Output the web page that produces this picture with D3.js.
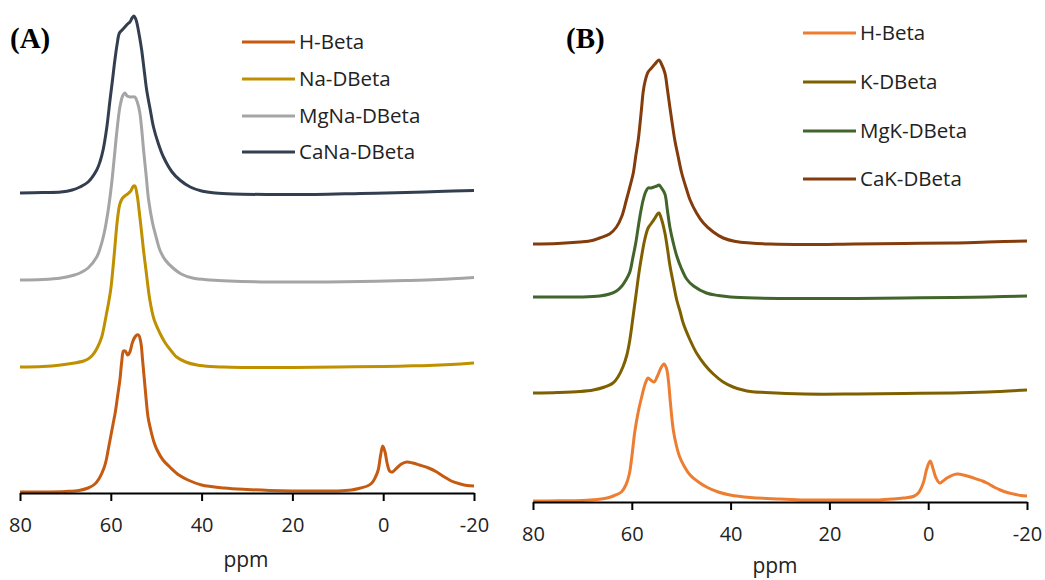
<!DOCTYPE html>
<html>
<head>
<meta charset="utf-8">
<script src="https://cdn.jsdelivr.net/npm/d3@7"></script>
<style>
  body { margin: 0; background: #fff; }
  svg { display: block; }
  .tick-lbl, .leg-lbl, .ax-title { font-family: "Open Sans", "Noto Sans", sans-serif; fill: #222; }
  .panel-lbl { font-family: "Liberation Serif", "Times New Roman", serif; font-weight: bold; fill: #000; }
</style>
</head>
<body>
<svg id="chart" width="1045" height="580"></svg>
<script>
// 27Al MAS NMR spectra, two panels. [ppm, intensity above own baseline]
const ticks = [80, 60, 40, 20, 0, -20];

// ---- panel A ----
const namesA = ["H-Beta", "Na-DBeta", "MgNa-DBeta", "CaNa-DBeta"];
const colorsA = ["#C55A11", "#BF9000", "#A5A5A5", "#333F50"];
const offsetsA = [1, 126, 212, 299];

const hBetaA = [[80,0],[75,0],[70,0.5],[67,1.5],[65,4],[63.5,8],[62.5,14],[61.5,24],[61,32],[60.5,44],[60,56],[59.5,68],[59,80],[58.5,96],[58,112],[57.6,130],[57.2,141],[56.8,141],[56.3,137],[55.8,140],[55.2,150],[54.5,156],[53.9,157],[53.4,150],[53,132],[52.6,112],[52.2,92],[51.8,75],[51.2,62],[50.5,50],[49.8,42],[48.5,32],[47,25],[45,17],[43,12],[40,7],[35,4],[30,2.5],[25,1.5],[20,1],[15,1],[10,1],[7,2],[5,4],[3.5,6],[2.5,9],[1.8,14],[1.1,22],[0.6,36],[0.1,46],[-0.4,40],[-0.9,28],[-1.4,21],[-2,20],[-3,24],[-4,28],[-5.2,30],[-6.5,29],[-8,27],[-10,24],[-11.8,20],[-13.5,15],[-15,11],[-17,8],[-18.5,6.5],[-20,6]];
const naDBeta = [[80,0],[75,0.5],[71,2],[68,4],[66,6],[65,8],[64,12],[63,19],[62,30],[61.5,40],[61,52],[60.5,64],[60,78],[59.5,100],[59.1,120],[58.6,145],[58,163],[57.4,169],[56.9,171],[56.3,173],[55.6,176],[55,181],[54.7,181],[54.2,172],[53.8,158],[53.3,138],[52.8,117],[52.2,95],[51.4,67],[50.5,48],[49.2,34],[48,24],[46.5,15],[45.5,10],[43.5,5],[41,2],[38,0.5],[35,0],[30,-0.5],[20,-0.5],[10,0],[0,0.5],[-5,1],[-10,1.5],[-15,2.5],[-20,4]];
const mgNaDBeta = [[80,1],[75,1.5],[71,3],[68,6],[66.8,8],[65,13],[63.1,24],[62.4,32],[61.5,47],[60.6,70],[59.8,98],[59.2,125],[58.7,148],[58,174],[57.4,185],[56.9,188],[56.4,185],[55.5,184],[54.7,184],[54.1,178],[53.6,168],[53.2,152],[52.8,132],[52.2,105],[51.7,82],[50.8,58],[49.9,42],[49.2,31],[48,21],[46.3,13],[44.5,7],[42,3],[38,1],[34,0],[25,-1],[15,-1],[5,-0.5],[-5,0.5],[-12,1.5],[-20,3.5]];
const caNaDBeta = [[80,1],[75,1.5],[71,2],[68.5,4],[66.8,7],[65,12],[63.1,24],[62.4,32],[61.7,44],[60.9,66],[60.2,93],[59.6,115],[59.1,134],[58.6,150],[58.1,161],[57.5,164],[56.9,167],[56.3,170],[55.8,172],[55.3,176],[54.9,178],[54.5,175],[54.2,170],[53.7,158],[53.2,144],[52.6,122],[52.1,104],[51.3,84],[50.6,67],[49.5,50],[48.4,37],[46.5,22],[44.8,14],[42.5,7],[40,3],[37,1],[33,0],[25,-0.5],[15,-0.5],[5,0.5],[-5,1.5],[-12,2.5],[-20,3.5]];

// ---- panel B ----
const namesB = ["H-Beta", "K-DBeta", "MgK-DBeta", "CaK-DBeta"];
const colorsB = ["#ED7D31", "#7F6000", "#41652B", "#843C0C"];
const offsetsB = [0, 109, 204, 258];

const hBetaB = [[80,1],[75,1.2],[70,1.5],[67,2.5],[65,4],[63.5,6.5],[62.1,10],[61.2,17],[60.5,28],[60,45],[59.4,70],[58.7,90],[58,105],[57.3,118],[56.7,124],[56.2,122],[55.5,120],[54.8,126],[54.1,134],[53.5,138],[53,134],[52.6,122],[52.2,100],[51.6,72],[51,57],[50.3,45],[49.3,35],[48.2,27],[46.5,20],[44.9,15],[42.5,10],[40.1,7],[36,4.5],[30,3],[25,2],[20,2],[15,2],[10,2],[7,3],[5,4],[3,5.5],[2,9],[1,19],[0.3,33],[-0.4,41],[-1,33],[-1.5,25],[-2.3,19],[-3,21],[-3.8,24],[-5.8,28],[-7.5,26.5],[-9.2,24],[-11,21],[-11.9,19],[-13.5,14.5],[-14.6,12],[-16,9.5],[-17.3,8],[-18.7,6.5],[-20,6]];
const kDBeta = [[80,0],[75,0.5],[70.5,1.5],[67.8,3],[65.5,6],[63.8,10],[62.8,16],[61.8,26],[61,38],[60.4,53],[59.7,78],[59.1,100],[58.5,122],[57.9,140],[57.4,153],[56.7,165],[56,170],[55.3,175],[54.8,179],[54.5,180],[54,174],[53.3,160],[52.8,145],[52.3,128],[51.6,110],[50.9,93],[50.2,81],[49.6,70],[48.3,54],[46.9,40],[45.2,28],[43.5,19],[41.5,11],[39.5,6],[37.5,3],[36,1.5],[33,0.5],[25,-1],[15,-1],[5,-0.5],[-5,0],[-12,1],[-20,3]];
const mgKDBeta = [[80,1],[75,1],[70,1],[66.5,2],[64.5,4],[63.1,7],[62,12],[61.2,18],[60.4,26],[59.8,40],[59.2,55],[58.7,71],[58.2,86],[57.7,98],[57.2,106],[56.7,110],[56.1,110],[55.5,111],[54.9,112],[54.5,113],[54,110],[53.3,104],[52.8,88],[52.3,71],[51.6,55],[50.9,42],[50,30],[48.9,19],[47.5,12],[44.9,5],[42.5,2.5],[40,1],[35,0],[25,-0.5],[15,-0.5],[5,0],[-5,0.5],[-12,1],[-20,2]];
const caKDBeta = [[80,0],[75,0.5],[70.5,2],[68,3.5],[66.5,6],[64.5,10],[63.1,17],[62,28],[61.1,44],[60.4,57],[59.7,71],[59.2,88],[58.7,104],[58.3,122],[58,137],[57.7,152],[57.3,163],[56.7,172],[56,176],[55.3,180],[54.5,184],[54,180],[53.3,171],[52.8,155],[52.3,137],[51.8,120],[51.3,104],[50.6,87],[49.9,71],[49,56],[48.2,44],[46.9,31],[45.5,21],[43.5,12],[41.5,6],[39,2.5],[36,1],[32,0],[25,-0.5],[15,0],[5,0.5],[-5,1],[-12,2],[-20,3]];

const svg = d3.select("#chart");

function drawPanel(cfg) {
  const x = d3.scaleLinear().domain([80, -20]).range([cfg.x0, cfg.x1]);
  const y = d3.scaleLinear().domain([0, 480]).range([cfg.axisY, cfg.axisY - 480]);
  const g = svg.append("g");

  // spectra, bottom first
  cfg.series.forEach((s, i) => {
    const line = d3.line()
      .x(d => x(d[0]))
      .y(d => y(d[1] + cfg.offsets[i]))
      .curve(d3.curveCatmullRom.alpha(0.5));
    g.append("path")
      .datum(s)
      .attr("d", line)
      .attr("fill", "none")
      .attr("stroke", cfg.colors[i])
      .attr("stroke-width", 3)
      .attr("stroke-linejoin", "round");
  });

  // x axis
  const axis = g.append("g")
    .attr("transform", `translate(0,${cfg.axisY})`)
    .call(d3.axisBottom(x).tickValues(ticks).tickSize(8).tickSizeOuter(0).tickFormat(d => String(d)));
  axis.select(".domain").attr("stroke", "#000").attr("stroke-width", 2);
  axis.selectAll(".tick line").attr("stroke", "#000").attr("stroke-width", 2);
  axis.selectAll(".tick text")
    .attr("class", "tick-lbl")
    .attr("y", 25)
    .attr("dy", "0.71em")
    .style("font-size", "20px");

  g.append("text")
    .attr("class", "ax-title")
    .attr("x", cfg.titleX)
    .attr("y", cfg.titleY)
    .attr("text-anchor", "middle")
    .style("font-size", "21px")
    .text("ppm");

  g.append("text")
    .attr("class", "panel-lbl")
    .attr("x", cfg.labelX)
    .attr("y", 48)
    .style("font-size", "29px")
    .text(cfg.label);

  // legend
  const leg = g.append("g");
  cfg.names.forEach((n, i) => {
    const ly = cfg.legY[i];
    leg.append("line")
      .attr("x1", cfg.legX).attr("x2", cfg.legX + 53)
      .attr("y1", ly).attr("y2", ly)
      .attr("stroke", cfg.colors[i]).attr("stroke-width", 3);
    leg.append("text")
      .attr("class", "leg-lbl")
      .attr("x", cfg.legX + 57)
      .attr("y", ly)
      .attr("dy", "0.35em")
      .style("font-size", "20.5px")
      .text(n);
  });
}

drawPanel({
  x0: 20, x1: 474, axisY: 493, titleX: 246, titleY: 567,
  series: [hBetaA, naDBeta, mgNaDBeta, caNaDBeta],
  names: namesA, colors: colorsA, offsets: offsetsA,
  label: "(A)", labelX: 10,
  legX: 242, legY: [42, 79, 116, 152]
});

drawPanel({
  x0: 533, x1: 1027, axisY: 502, titleX: 775, titleY: 573,
  series: [hBetaB, kDBeta, mgKDBeta, caKDBeta],
  names: namesB, colors: colorsB, offsets: offsetsB,
  label: "(B)", labelX: 566,
  legX: 803, legY: [33, 82, 131, 179]
});
</script>
</body>
</html>
